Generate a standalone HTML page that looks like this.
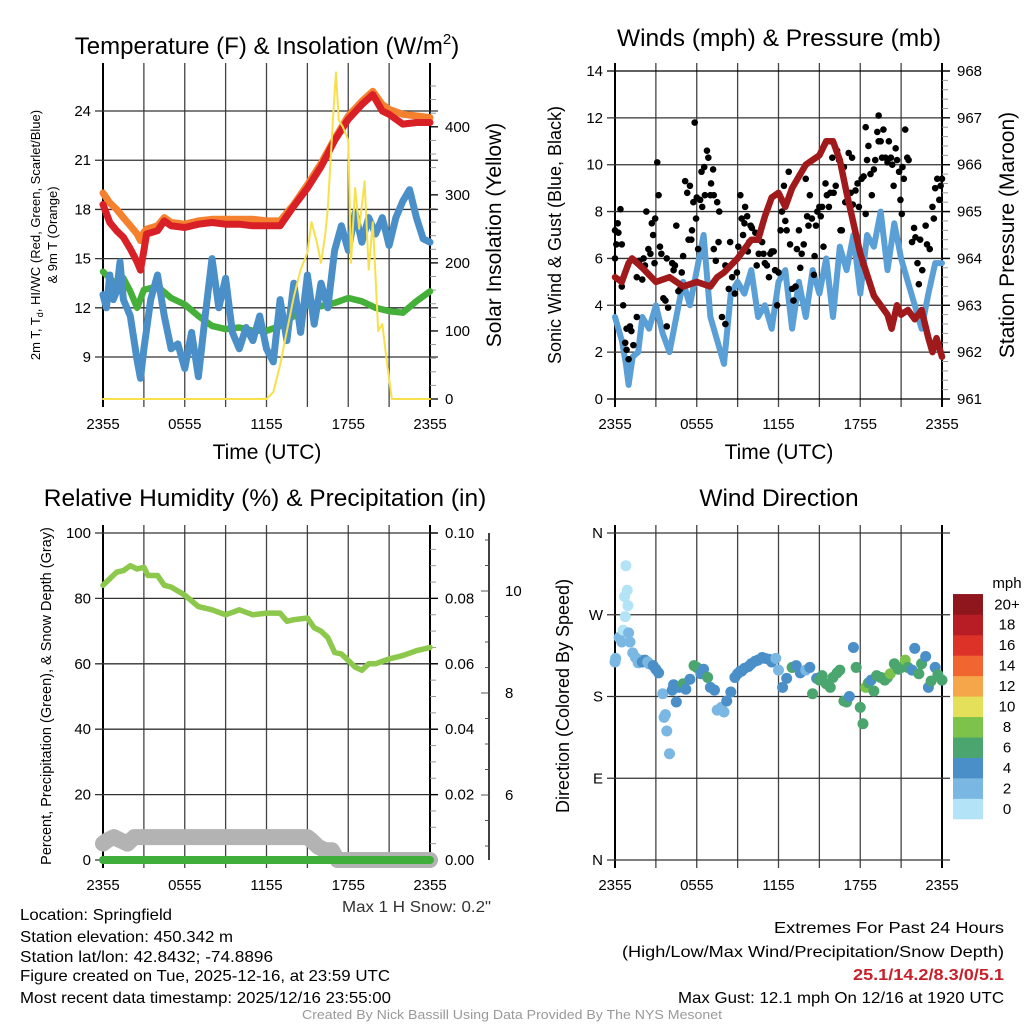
<!DOCTYPE html>
<html><head><meta charset="utf-8"><style>
html,body{margin:0;padding:0;background:#fff}
svg{display:block;font-family:"Liberation Sans",sans-serif}
</style></head><body>
<svg id="fig" width="1024" height="1024" viewBox="0 0 1024 1024" xmlns="http://www.w3.org/2000/svg">
<rect width="1024" height="1024" fill="#fff"/>
<g id="p1"></g>
<g id="p2"></g>
<g id="p3"></g>
<g id="p4"></g>

<text x="267" y="54" font-size="24" text-anchor="middle">Temperature (F) &amp; Insolation (W/m<tspan font-size="15" dy="-10">2</tspan><tspan dy="10">)</tspan></text>
<text x="779" y="46" font-size="24.5" text-anchor="middle">Winds (mph) &amp; Pressure (mb)</text>
<text x="265" y="506" font-size="24.5" text-anchor="middle">Relative Humidity (%) &amp; Precipitation (in)</text>
<text x="779" y="506" font-size="24.5" text-anchor="middle">Wind Direction</text>

<text x="267" y="459" font-size="21" text-anchor="middle">Time (UTC)</text>
<text x="779" y="459" font-size="21" text-anchor="middle">Time (UTC)</text>

<text transform="translate(40,235) rotate(-90)" font-size="13" text-anchor="middle">2m T, T<tspan font-size="9" dy="3">d</tspan><tspan dy="-3">, HI/WC (Red, Green, Scarlet/Blue)</tspan></text>
<text transform="translate(57,235) rotate(-90)" font-size="13" text-anchor="middle">&amp; 9m T (Orange)</text>
<text transform="translate(501,235) rotate(-90)" font-size="21" text-anchor="middle">Solar Insolation (Yellow)</text>
<text transform="translate(561,235) rotate(-90)" font-size="18" text-anchor="middle">Sonic Wind &amp; Gust (Blue, Black)</text>
<text transform="translate(1014,235) rotate(-90)" font-size="21" text-anchor="middle">Station Pressure (Maroon)</text>
<text transform="translate(51,696) rotate(-90)" font-size="14.5" text-anchor="middle">Percent, Precipitation (Green), &amp; Snow Depth (Gray)</text>
<text transform="translate(569,696) rotate(-90)" font-size="18" text-anchor="middle">Direction (Colored By Speed)</text>

<text x="342" y="912" font-size="16" fill="#333" textLength="149" lengthAdjust="spacingAndGlyphs">Max 1 H Snow: 0.2"</text>

<g font-size="16" fill="#000">
<text x="20" y="920" textLength="152" lengthAdjust="spacingAndGlyphs">Location: Springfield</text>
<text x="20" y="942" textLength="213" lengthAdjust="spacingAndGlyphs">Station elevation: 450.342 m</text>
<text x="20" y="962" textLength="253" lengthAdjust="spacingAndGlyphs">Station lat/lon: 42.8432; -74.8896</text>
<text x="20" y="981" textLength="370" lengthAdjust="spacingAndGlyphs">Figure created on Tue, 2025-12-16, at 23:59 UTC</text>
<text x="20" y="1003" textLength="371" lengthAdjust="spacingAndGlyphs">Most recent data timestamp: 2025/12/16 23:55:00</text>
</g>
<g font-size="16">
<text x="774" y="933" textLength="230" lengthAdjust="spacingAndGlyphs">Extremes For Past 24 Hours</text>
<text x="622" y="957" textLength="382" lengthAdjust="spacingAndGlyphs">(High/Low/Max Wind/Precipitation/Snow Depth)</text>
<text x="853" y="980" fill="#c8202a" font-weight="bold" textLength="151" lengthAdjust="spacingAndGlyphs">25.1/14.2/8.3/0/5.1</text>
<text x="678" y="1003" textLength="326" lengthAdjust="spacingAndGlyphs">Max Gust: 12.1 mph On 12/16 at 1920 UTC</text>
</g>
<text x="302" y="1019" font-size="13" fill="#999" textLength="420" lengthAdjust="spacingAndGlyphs">Created By Nick Bassill Using Data Provided By The NYS Mesonet</text>
</svg>
<script>
// ---- data (hours since 2355) ----
const xTickLabels = ["2355","","0555","","1155","","1755","","2355"];
const tempTicks = [9,12,15,18,21,24];
const solarTicks = [0,100,200,300,400];
const windTicks = [0,2,4,6,8,10,12,14];
const presTicks = [961,962,963,964,965,966,967,968];
const rhTicks = [0,20,40,60,80,100];
const precipTicks = ["0.00","0.02","0.04","0.06","0.08","0.10"];
const snowTicks = [6,8,10];
const dirTicks = ["N","E","S","W","N"];
const cbLabels = ["0","2","4","6","8","10","12","14","16","18","20+"];
const cbColors = ["#b3e3f7","#7ab8e3","#4a8fc8","#4aa66e","#7dc24a","#e5e05a","#f5a64a","#f06530","#dc3228","#b81c24","#8e161c"];

const tH = [0,0.5,1,1.5,2,2.5,2.75,3,3.2,4,4.5,5,6,7,8,9,10,11,12,13,13.5,14,15,16,17,18,19,19.8,20.5,21,22,23,24];
const temp2m = [18.3,17.2,16.7,16.3,15.6,14.8,14.3,15.5,16.5,16.7,17.3,17.0,16.9,17.1,17.2,17.1,17.1,17.0,17.0,17.0,17.6,18.2,19.3,20.6,22.2,23.5,24.4,25.0,24.0,23.8,23.2,23.3,23.3];
const temp9m = [19.0,18.4,18.0,17.5,17.0,16.5,16.1,16.6,16.8,17.0,17.5,17.2,17.1,17.3,17.4,17.4,17.4,17.4,17.3,17.3,17.8,18.3,19.5,20.8,22.3,23.7,24.6,25.2,24.4,24.1,23.8,23.7,23.6];
const dewH = [0,1,1.5,2,2.5,3,4,5,6,7,8,9,10,11,12,13,14,15,16,17,18,19,20,21,22,23,24];
const dewpt = [14.2,13.4,13.8,13.0,12.0,13.1,13.3,12.6,12.2,11.5,10.9,10.7,10.8,10.6,10.6,10.9,11.5,12.2,12.1,12.3,12.6,12.4,12.0,11.8,11.7,12.4,13.0];
const wcH = [0,0.25,0.5,0.75,1,1.25,1.5,2,2.5,2.75,3,3.5,4,4.5,5,5.5,6,6.5,7,7.5,8,8.5,9,9.5,10,10.5,11,11.5,12,12.5,13,13.5,14,14.5,15,15.5,16,16.5,17,17.5,18,18.5,19,19.5,20,20.5,21,21.5,22,22.5,23,23.5,24];
const windChill = [12.8,12.0,14.0,12.5,13.0,14.8,12.5,11.5,8.8,7.7,9.5,12.5,14.0,11.5,9.5,9.8,8.3,10.5,7.8,11.5,15.0,12.0,13.8,10.5,9.5,10.8,10.0,11.5,9.5,8.7,12.5,10.0,13.5,10.5,14.0,11.0,13.5,12.0,15.5,17.0,15.5,17.8,16.0,17.5,16.5,17.5,15.8,17.5,18.5,19.2,17.5,16.2,16.0];
const solH = [0,12,12.5,13,13.5,14,14.5,15,15.3,15.7,16,16.3,16.5,16.9,17.1,17.3,17.6,18,18.2,18.5,18.8,19.2,19.5,19.8,20.2,20.5,20.8,21.2,24];
const solar = [0,0,10,50,100,150,190,215,260,230,200,240,280,420,480,410,400,380,200,310,250,320,190,260,100,110,60,0,0];

const presH = [0,0.5,1,1.25,2,3,4,5,6,7,7.5,8,9,10,10.5,11,11.5,12,12.5,13,14,15,15.5,16,16.5,17,18,19,20,20.3,20.7,21,21.5,22,22.5,23,23.3,23.6,24];
const pressure = [963.6,963.5,963.9,964.0,963.8,963.5,963.6,963.4,963.5,963.4,963.6,963.7,964.0,964.4,964.4,964.9,965.3,965.4,965.1,965.5,966.0,966.2,966.5,966.5,966.1,965.4,964.1,963.2,962.8,962.5,963.0,962.8,962.9,962.7,962.9,962.3,962.0,962.3,961.9];
const windH = [0,0.5,0.8,1,1.3,1.7,2,2.5,3,3.5,4,4.5,5,5.5,6,6.5,7,7.5,8,8.5,9,9.5,10,10.5,11,11.5,12,12.5,13,13.5,14,14.5,15,15.5,16,16.5,17,17.5,18,18.5,19,19.5,20,20.5,21,21.5,22,22.5,23,23.5,24];
const windSpd = [3.5,2.5,1.5,0.6,1.8,2.0,3.5,3.0,4.0,2.8,2.0,3.5,5.0,4.0,5.5,7.0,3.5,2.5,1.5,4.5,5.0,4.5,5.5,3.5,4.0,3.0,5.0,5.5,3.0,5.0,3.5,5.5,4.5,6.0,3.5,6.5,5.5,7.0,4.5,7.0,6.5,8.0,5.5,7.5,6.0,5.0,4.0,3.0,4.5,5.8,5.8];
const gustH = [0,0,0.2,0.25,0.1,0.4,0.5,0.5,0.6,0.75,0.85,1.0,0.85,1.1,1.2,1.35,1.6,1.6,2.0,1.8,2.1,2.2,2.3,2.45,2.6,2.7,2.8,2.95,2.9,3.1,3.2,3.3,3.4,3.55,3.7,3.8,3.9,3.8,4.2,4.3,4.4,4.5,4.65,4.8,4.9,5.0,5.15,5.3,5.4,5.5,5.6,5.65,5.75,5.85,5.95,6.0,6.1,6.25,6.35,6.4,6.55,6.6,6.75,6.85,7.0,7.05,7.2,7.25,7.25,7.4,7.5,7.65,7.6,7.85,8.1,8.1,8.35,8.45,8.6,8.8,8.95,9.05,9.2,9.3,9.4,9.5,9.55,9.7,9.75,9.85,9.95,10.05,10.2,10.3,10.4,10.55,10.65,10.8,10.9,11.0,11.15,11.3,11.4,11.5,11.65,11.75,11.9,12.0,12.15,12.25,12.4,12.5,12.6,12.75,12.85,13.0,13.1,13.25,13.35,13.5,13.6,13.7,13.85,14.0,14.1,14.2,14.3,14.45,14.6,14.65,14.75,14.85,15.0,15.1,15.2,15.3,15.45,15.55,15.7,15.8,15.95,16.05,16.2,16.3,16.45,16.55,16.65,16.8,16.9,17.05,17.15,17.3,17.4,17.45,17.65,17.8,17.9,18.1,18.25,18.4,18.4,18.5,18.6,18.75,18.85,19.0,19.1,19.25,19.35,19.35,19.5,19.6,19.7,19.85,20.0,20.1,20.25,20.35,20.45,20.6,20.7,20.85,20.95,21.05,21.1,21.2,21.3,21.45,21.55,21.8,21.95,22.05,22.2,22.3,22.4,22.55,22.8,22.9,23.1,23.3,23.4,23.5,23.65,23.8,23.9,24.0];
const gust = [6.0,7.2,7.5,7.1,6.6,8.1,6.6,4.8,4.0,2.4,2.1,1.7,3.0,3.1,2.9,2.3,3.5,5.2,5.1,5.9,6.0,5.7,8.0,6.4,6.2,7.5,7.0,7.7,5.8,10.1,8.7,6.5,6.2,4.3,4.2,6.0,3.9,3.1,5.8,5.5,5.7,7.4,4.6,4.7,5.4,6.1,9.3,8.8,6.8,9.1,6.8,7.2,8.4,11.8,7.7,8.6,6.4,8.5,9.7,8.2,9.9,8.7,10.6,10.3,8.7,9.2,9.8,8.7,6.4,5.9,8.4,8.0,6.7,3.5,3.2,5.7,4.7,6.7,5.2,4.5,5.4,6.5,8.7,7.7,7.0,7.5,8.2,7.8,6.3,6.7,7.4,7.3,6.8,7.1,5.7,6.2,7.1,6.7,6.2,5.8,5.7,5.2,6.2,6.3,6.3,5.5,4.0,5.4,7.2,8.0,9.1,7.6,7.2,9.7,6.6,4.7,4.2,4.8,6.4,7.2,5.6,6.2,6.6,9.4,7.8,7.4,8.7,7.7,5.3,6.1,7.4,8.0,8.2,7.8,8.2,6.5,9.2,8.7,8.2,8.8,10.3,8.8,9.1,10.6,10.2,7.2,7.2,9.9,8.4,8.8,10.5,8.8,10.3,8.3,8.9,9.2,8.2,9.4,9.5,11.6,7.9,10.2,10.8,9.6,8.7,9.8,10.2,11.4,12.1,11.0,11.0,10.3,11.5,10.3,10.1,11.0,10.3,10.0,9.1,10.7,10.2,9.7,8.5,7.9,9.9,9.4,11.5,10.3,10.2,6.7,7.3,6.9,5.8,4.9,6.8,5.5,7.4,6.6,6.4,8.2,7.7,9.0,9.4,8.5,9.1,9.4];

const rhH = [0,0.5,1,1.5,2,2.5,3,3.3,4,4.5,5,6,7,8,9,10,11,12,13,13.5,14,15,15.5,16,16.5,17,17.5,18,18.5,19,19.5,20,21,22,23,24];
const rh = [84,86,88,88.5,90,89,89.5,87,87,84,83.5,81,77.5,76.5,75,76.5,75,75.5,75.5,73,73.5,74,71,70,68,63.5,63,61,59,58,60,60,61.5,62.5,64,65];
const snowH = [0,0.3,0.8,1.3,1.8,2.3,3,4,5,6,7,8,9,10,11,12,13,14,15,15.3,15.8,16.3,16.8,17.2,18,19,20,21,22,23,24];
const snowPct = [5,6,7,6,5,7,7,7,7,7,7,7,7,7,7,7,7,7,7,6,4,3,3,0,0,0,0,0,0,0,0];
const precipH = [0,24];
const precip = [0,0];

const dirH = [0,0.05,0.3,0.5,0.6,0.7,0.75,0.8,0.9,0.95,1.0,1.1,1.3,1.5,1.7,1.9,2.0,2.2,2.4,2.5,2.8,3.0,3.2,3.5,3.6,3.7,3.8,4.0,4.2,4.3,4.5,4.7,5.0,5.2,5.5,5.8,6.0,6.3,6.5,6.8,7.0,7.3,7.5,7.8,8.0,8.2,8.5,8.8,9.0,9.2,9.3,9.5,9.8,10.0,10.3,10.5,10.8,11.0,11.3,11.5,11.8,12.0,12.3,12.6,13.0,13.3,13.6,14.0,14.3,14.5,14.8,15.0,15.2,15.5,15.8,16.0,16.3,16.5,16.8,17.0,17.2,17.5,17.7,18.0,18.2,18.4,18.6,18.8,19.0,19.2,19.5,19.8,20.0,20.2,20.5,20.8,21.0,21.3,21.5,21.8,22.0,22.3,22.5,22.8,23.0,23.2,23.5,23.7,24.0];
const dirDeg = [218,222,245,240,253,290,268,324,297,280,250,240,228,223,217,220,218,220,218,216,214,210,206,183,157,160,142,117,187,193,174,190,194,188,199,214,212,205,210,201,190,187,165,168,163,175,185,201,205,208,208,211,213,216,219,220,223,222,221,218,222,209,190,200,212,214,206,209,212,183,200,198,203,194,190,201,206,209,175,174,180,234,212,168,150,190,195,198,186,203,201,198,201,205,216,210,212,220,212,209,233,205,216,224,190,197,212,204,198];
const dirSpd = [2.5,3,3,2.5,1.5,1.2,1.5,0.8,1.2,1.5,3,3,3,3,3.5,3.5,4,4,3,3.5,4,4.5,4,2.5,2.5,2.8,2.5,2.5,4.5,4,4.5,4.5,6.5,5,4.5,7,6.5,5,4.5,6.5,4.5,4.5,3,3,3,4.5,4,4.5,4.5,4.5,4.5,4.5,4.5,4.5,4.5,5,4.5,4.5,4.5,4.5,3,3,4.5,5,6.5,4.5,4.5,3,4.5,6.5,4.5,6.5,7,6.5,6.5,6.5,7,6.5,6.5,6.5,5,4.5,7,6.5,6.5,8.5,7,5,6.5,6.5,7,6.5,6.5,8.5,6.5,6.5,7,8.5,7,4.5,4.5,7,7,4.5,4.5,7,4.5,6.5,6.5,6.5];

// ---- drawing ----
const NS = "http://www.w3.org/2000/svg";
function mk(parent, tag, attrs){ const e=document.createElementNS(NS,tag); for(const k in attrs) e.setAttribute(k,attrs[k]); parent.appendChild(e); return e; }
function linScale(d0,d1,r0,r1){ return v => r0 + (v-d0)*(r1-r0)/(d1-d0); }
function pathOf(xs,ys,fx,fy){ return xs.map((h,i)=>(i?"L":"M")+fx(h).toFixed(1)+","+fy(ys[i]).toFixed(1)).join(""); }

function frame(g, X0, X1, Y0, Y1, yMajors, fy){
  const fx = linScale(0,24,X0,X1);
  for(let i=0;i<=8;i++){
    const x = fx(i*3);
    const ln = mk(g,"line",{x1:x,x2:x,y1:Y0-8,y2:Y1+8,stroke:(i==0||i==8)?"#000":"#444","stroke-width":(i==0||i==8)?2:1.3});
    
    
    if(xTickLabels[i]){
      const t = mk(g,"text",{x:x,y:Y1+30,"font-size":15,"text-anchor":"middle"});
      t.textContent = xTickLabels[i];
      
      
    }
  }
  yMajors.forEach(v=>{
    const y = fy(v);
    const ln = mk(g,"line",{x1:X0-8,x2:X1+8,y1:y,y2:y,stroke:"#333","stroke-width":1.3});
    
    
  });
  return fx;
}
function leftLabels(g, X0, vals, fy, labels){
  vals.forEach((v,i)=>{
    const t = mk(g,"text",{x:X0-12,y:fy(v)+5,"font-size":15,"text-anchor":"end"});
    t.textContent = labels ? labels[i] : v;
    
    
  });
}
function rightAxis(g, X, vals, fy, labels, minors){
  minors.forEach(y=>{ const m=mk(g,"line",{x1:X,x2:X+6,y1:y,y2:y,stroke:"#999","stroke-width":1});
      });
  vals.forEach((v,i)=>{
    const y=fy(v);
    mk(g,"line",{x1:X,x2:X+8,y1:y,y2:y,stroke:"#000","stroke-width":1.3});
    const t = mk(g,"text",{x:X+15,y:y+5,"font-size":15});
    t.textContent = labels ? labels[i] : v;
    
    
  });
}
function series(g, xs, ys, fx, fy, color, w, name){
  const p = mk(g,"path",{d:pathOf(xs,ys,fx,fy),fill:"none",stroke:color,"stroke-width":w,"stroke-linejoin":"round","stroke-linecap":"round"});
  
  
}

// Panel 1: temperature
(function(){
  const g=document.getElementById("p1"); const X0=103,X1=430,Y0=71,Y1=399;
  const fy = linScale(6.44,26.44,Y1,Y0);
  const fs = linScale(0,482,Y1,Y0);
  const fx = frame(g,X0,X1,Y0,Y1,tempTicks,fy);
  leftLabels(g,X0,tempTicks,fy);
  const minors=[]; for(let s=20;s<480;s+=20) if(s%100) minors.push(fs(s));
  rightAxis(g,X1,solarTicks,fs,null,minors);
  series(g,tH,temp9m,fx,fy,"#f5812f",7,"temp-9m-line");
  series(g,tH,temp2m,fx,fy,"#d92026",7,"temp-2m-line");
  series(g,dewH,dewpt,fx,fy,"#45b039",6.5,"dewpoint-line");
  series(g,wcH,windChill,fx,fy,"#4a8fc8",7,"windchill-line");
  series(g,solH,solar,fx,fs,"#f7e04a",2,"solar-line");
})();

// Panel 2: wind
(function(){
  const g=document.getElementById("p2"); const X0=615,X1=942,Y0=71,Y1=399;
  const fy = linScale(0,14,Y1,Y0);
  const fp = linScale(961,968,Y1,Y0);
  const fx = frame(g,X0,X1,Y0,Y1,windTicks.filter(v=>v>0&&v<14),fy);
  mk(g,"line",{x1:X0-8,x2:X1+8,y1:Y0,y2:Y0,stroke:"#000","stroke-width":1.3});
  mk(g,"line",{x1:X0-8,x2:X1+8,y1:Y1,y2:Y1,stroke:"#000","stroke-width":1.3});
  leftLabels(g,X0,windTicks,fy);
  const minors=[]; for(let p=961.2;p<968;p+=0.2) minors.push(fp(p));
  rightAxis(g,X1,presTicks,fp,null,minors);
  series(g,windH,windSpd,fx,fy,"#5a9fd6",6,"wind-speed-line");
  gustH.forEach((h,i)=>{
    const c = mk(g,"circle",{cx:fx(h),cy:fy(gust[i]),r:3.3,fill:"#000"});
    
    
  });
  series(g,presH,pressure,fx,fp,"#a01a1c",6.5,"pressure-line");
})();

// Panel 3: humidity
(function(){
  const g=document.getElementById("p3"); const X0=103,X1=430,Y0=533,Y1=860;
  const fy = linScale(0,100,Y1,Y0);
  const fx = frame(g,X0,X1,Y0,Y1,rhTicks,fy);
  leftLabels(g,X0,rhTicks,fy);
  const minors=[]; for(let v=5;v<100;v+=5) if(v%20) minors.push(fy(v));
  rightAxis(g,X1,[0,20,40,60,80,100],fy,precipTicks,minors);
  const SX=489; const fsn = linScale(6,10,795,591);
  const ax = mk(g,"line",{x1:SX,x2:SX,y1:Y0,y2:Y1,stroke:"#000","stroke-width":1.5});
   
  for(let v=5;v<=11;v+=0.5){ const y=fsn(v); if(y<Y0||y>Y1) continue; mk(g,"line",{x1:SX-((v%2==0)?8:4),x2:SX,y1:y,y2:y,stroke:"#555","stroke-width":1}); }
  snowTicks.forEach(v=>{ const t=mk(g,"text",{x:SX+16,y:fsn(v)+5,"font-size":15}); t.textContent=v;
      });
  series(g,snowH,snowPct,fx,fy,"#b3b3b3",16,"snow-depth-line");
  series(g,precipH,precip,fx,fy,"#3fae3a",8,"precip-line");
  series(g,rhH,rh,fx,fy,"#8cc84b",5.5,"humidity-line");
})();

// Panel 4: direction
(function(){
  const g=document.getElementById("p4"); const X0=615,X1=942,Y0=533,Y1=860;
  const fy = linScale(0,360,Y1,Y0);
  const fx = frame(g,X0,X1,Y0,Y1,[0,90,180,270,360],fy);
  leftLabels(g,X0,[0,90,180,270,360],fy,dirTicks);
  dirH.forEach((h,i)=>{
    const bin = Math.min(10,Math.floor(dirSpd[i]/2));
    const c = mk(g,"circle",{cx:fx(h),cy:fy(dirDeg[i]),r:5.5,fill:cbColors[bin]});
    
    
  });
  const CX=953, CW=30, CB=819, CH=20.45;
  cbColors.forEach((col,i)=>{
    const r = mk(g,"rect",{x:CX,y:CB-(i+1)*CH,width:CW,height:CH+0.3,fill:col});
    
    
    const t = mk(g,"text",{x:1007,y:CB-(i+0.5)*CH+5,"font-size":15,"text-anchor":"middle"});
    t.textContent = cbLabels[i];
    
    
  });
  const u = mk(g,"text",{x:1007,y:588,"font-size":15,"text-anchor":"middle"});
  u.textContent="mph";
  
  
})();
</script>
</body></html>
